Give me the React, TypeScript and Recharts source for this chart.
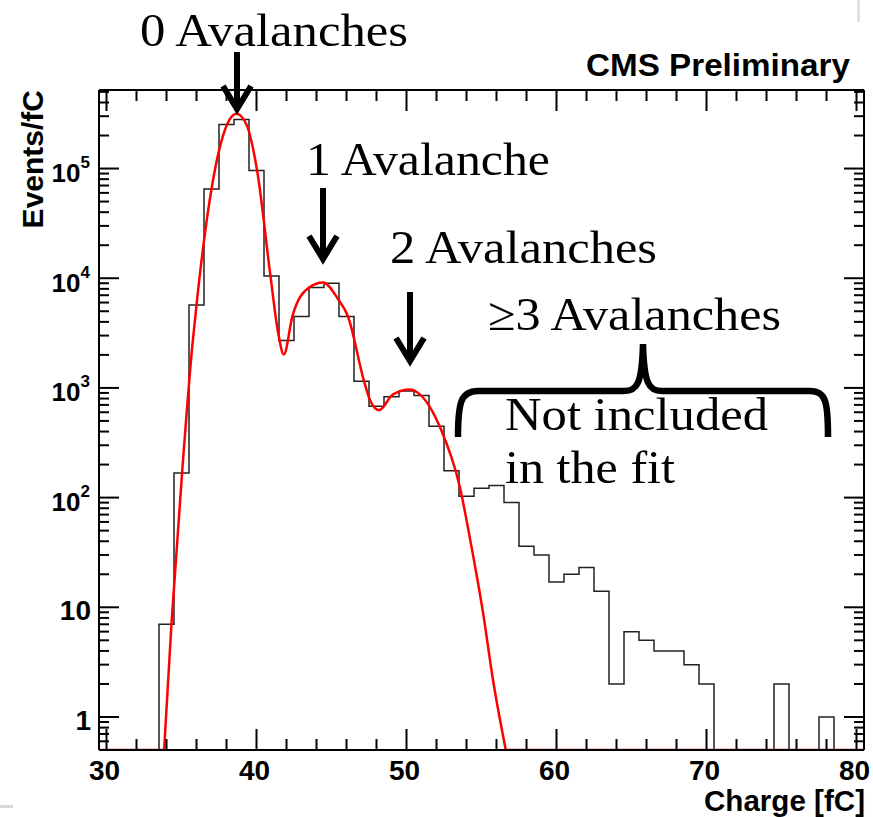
import React from 'react';
import { ComposedChart, Line, XAxis, YAxis } from 'recharts';

// ---------- data ----------
const binCenters = [
  30, 31, 32, 33, 34, 35, 36, 37, 38, 39, 40, 41, 42, 43, 44, 45, 46, 47, 48, 49, 50,
  51, 52, 53, 54, 55, 56, 57, 58, 59, 60, 61, 62, 63, 64, 65, 66, 67, 68, 69, 70,
  71, 72, 73, 74, 75, 76, 77, 78, 79, 80,
];
const binCounts = [
  0, 0, 0, 0, 7, 168, 5700, 65000, 252000, 280000, 96000, 10500, 2700, 4480, 8240, 9020, 4480, 1150, 680, 830, 935,
  854, 448, 176, 103, 122, 129, 90, 36, 30, 17, 20, 23, 14, 2, 6, 5, 4, 4, 3, 2,
  0, 0, 0, 0, 2, 0, 0, 1, 0, 0,
];
const binWidth = 1;

const fitCharge = [
  33.84, 34.33, 35.04, 35.73, 36.0, 36.5, 37.0, 37.6, 38.2, 38.67, 39.33, 40.04, 40.93, 41.44, 41.82,
  42.4, 43.5, 44.44, 45.44, 46.1, 47.17, 47.55, 48.17, 49.1, 50.22, 50.89, 52.3, 53.55, 54.33, 55.11,
  55.77, 56.62,
];
const fitValue = [
  0.5, 7, 169, 2500, 5700, 22000, 65000, 165000, 279000, 316000, 252000, 96000, 10500, 3200, 2020,
  4530, 8240, 9160, 6440, 4480, 1150, 785, 627, 873, 969, 873, 417, 126, 35.8, 8.8,
  2.16, 0.5,
];

const xDomain: [number, number] = [29.5, 80.5];
const yDomain: [number, number] = [0.5, 520000];

const xMajorTicks = [30, 40, 50, 60, 70, 80];
const xMinorTicks = [32, 34, 36, 38, 42, 44, 46, 48, 52, 54, 56, 58, 62, 64, 66, 68, 72, 74, 76, 78];
const yMajorTicks = [1, 10, 100, 1000, 10000, 100000];
const yTickBase = ['1', '10', '10', '10', '10', '10'];
const yTickExp = ['', '', '2', '3', '4', '5'];
const yMinorMantissas = [2, 3, 4, 5, 6, 7, 8, 9];

const annotations = [
  { text: '0 Avalanches', x: 140, y: 46, w: 268 },
  { text: '1 Avalanche', x: 306, y: 175, w: 244 },
  { text: '2 Avalanches', x: 390, y: 263, w: 267 },
  { text: '\u22653 Avalanches', x: 488, y: 330, w: 293 },
  { text: 'Not included', x: 505, y: 430, w: 263 },
  { text: 'in the fit', x: 505, y: 483, w: 170 },
];
const arrows = [
  { x: 237, top: 52, tip: 113 },
  { x: 323, top: 188, tip: 263 },
  { x: 410, top: 292, tip: 365 },
];

// ---------- derived tables ----------
const histData = [
  ...binCenters.map((c, i) => ({ x: c - binWidth / 2, h: Math.max(binCounts[i], yDomain[0]) })),
  {
    x: binCenters[binCenters.length - 1] + binWidth / 2,
    h: Math.max(binCounts[binCounts.length - 1], yDomain[0]),
  },
];
const fitData = fitCharge.map((x, i) => ({ x, f: fitValue[i] }));
const fitLeftFloor = [
  { x: xDomain[0], f: yDomain[0] },
  { x: fitCharge[0], f: yDomain[0] },
];
const fitRightFloor = [
  { x: fitCharge[fitCharge.length - 1], f: yDomain[0] },
  { x: xDomain[1], f: yDomain[0] },
];

const yMinorTicks: number[] = [];
[0.1, 1, 10, 100, 1000, 10000, 100000].forEach((d) => {
  yMinorMantissas.forEach((m) => {
    const v = m * d;
    if (v > yDomain[0] && v < yDomain[1]) yMinorTicks.push(v);
  });
});
const yTicks = [...yMajorTicks, ...yMinorTicks].sort((a, b) => a - b);
const xTicks = [...xMajorTicks, ...xMinorTicks].sort((a, b) => a - b);

const SANS = '"Liberation Sans", Arial, Helvetica, sans-serif';
const SERIF = '"Liberation Serif", "Times New Roman", Times, serif';
const TICK_W = 2;

// ---------- tick renderers ----------
const LeftTick = (props: any) => {
  const { x, y, payload } = props;
  const idx = yMajorTicks.indexOf(payload.value);
  const major = idx >= 0;
  const len = major ? 20 : 10;
  return (
    <g>
      <line x1={x} y1={y} x2={x + len} y2={y} stroke="#000" strokeWidth={TICK_W} />
      {major && yTickExp[idx] === '' && (
        <text x={x - 8} y={y + 13} textAnchor="end" fontFamily={SANS} fontWeight="bold" fontSize={28} fill="#000">
          {yTickBase[idx]}
        </text>
      )}
      {major && yTickExp[idx] !== '' && (
        <text x={x - 9} y={y + 13.5} textAnchor="end" fontFamily={SANS} fontWeight="bold" fill="#000">
          <tspan fontSize={26}>{yTickBase[idx]}</tspan>
          <tspan fontSize={17} dy={-14}>
            {yTickExp[idx]}
          </tspan>
        </text>
      )}
    </g>
  );
};

const RightTick = (props: any) => {
  const { x, y, payload } = props;
  const major = yMajorTicks.indexOf(payload.value) >= 0;
  const len = major ? 20 : 10;
  return <line x1={x} y1={y} x2={x - len} y2={y} stroke="#000" strokeWidth={TICK_W} />;
};

const BottomTick = (props: any) => {
  const { x, y, payload } = props;
  const major = xMajorTicks.indexOf(payload.value) >= 0;
  const len = major ? 21 : 11;
  return (
    <g>
      <line x1={x} y1={y} x2={x} y2={y - len} stroke="#000" strokeWidth={TICK_W} />
      {major && (
        <text x={x - 2} y={y + 30} textAnchor="middle" fontFamily={SANS} fontWeight="bold" fontSize={28} fill="#000">
          {String(payload.value)}
        </text>
      )}
    </g>
  );
};

const TopTick = (props: any) => {
  const { x, y, payload } = props;
  const major = xMajorTicks.indexOf(payload.value) >= 0;
  const len = major ? 21 : 11;
  return <line x1={x} y1={y} x2={x} y2={y + len} stroke="#000" strokeWidth={TICK_W} />;
};

const axisLineStyle = { stroke: '#000', strokeWidth: 2 };

export default function App() {
  return (
    <div style={{ position: 'absolute', left: 0, top: 0, width: 873, height: 817, background: '#fff' }}>
      <ComposedChart width={873} height={817} margin={{ top: 89, right: 8, bottom: 0, left: 0 }}>
        <XAxis
          xAxisId="b"
          dataKey="x"
          type="number"
          domain={xDomain}
          allowDataOverflow
          ticks={xTicks}
          interval={0}
          height={67}
          tickSize={0}
          tickMargin={0}
          tickLine={false}
          axisLine={axisLineStyle}
          tick={(p: any) => <BottomTick {...p} />}
        />
        <XAxis
          xAxisId="t"
          orientation="top"
          dataKey="x"
          type="number"
          domain={xDomain}
          allowDataOverflow
          ticks={xTicks}
          interval={0}
          height={1}
          tickSize={0}
          tickMargin={0}
          tickLine={false}
          axisLine={axisLineStyle}
          tick={(p: any) => <TopTick {...p} />}
        />
        <YAxis
          yAxisId="l"
          type="number"
          scale="log"
          domain={yDomain}
          allowDataOverflow
          ticks={yTicks}
          interval={0}
          width={99}
          tickSize={0}
          tickMargin={0}
          tickLine={false}
          axisLine={axisLineStyle}
          tick={(p: any) => <LeftTick {...p} />}
        />
        <YAxis
          yAxisId="r"
          orientation="right"
          type="number"
          scale="log"
          domain={yDomain}
          allowDataOverflow
          ticks={yTicks}
          interval={0}
          width={1}
          tickSize={0}
          tickMargin={0}
          tickLine={false}
          axisLine={axisLineStyle}
          tick={(p: any) => <RightTick {...p} />}
        />
        <Line
          xAxisId="t"
          yAxisId="r"
          data={histData}
          dataKey="h"
          type="stepAfter"
          stroke="none"
          dot={false}
          activeDot={false}
          isAnimationActive={false}
        />
        <Line
          xAxisId="b"
          yAxisId="l"
          data={histData}
          dataKey="h"
          type="stepAfter"
          stroke="#222"
          strokeWidth={1.5}
          dot={false}
          activeDot={false}
          isAnimationActive={false}
        />
        <Line
          xAxisId="b"
          yAxisId="l"
          data={fitLeftFloor}
          dataKey="f"
          type="linear"
          stroke="#ff0000"
          strokeWidth={2.5}
          dot={false}
          activeDot={false}
          isAnimationActive={false}
        />
        <Line
          xAxisId="b"
          yAxisId="l"
          data={fitData}
          dataKey="f"
          type="monotone"
          stroke="#ff0000"
          strokeWidth={2.5}
          dot={false}
          activeDot={false}
          isAnimationActive={false}
        />
        <Line
          xAxisId="b"
          yAxisId="l"
          data={fitRightFloor}
          dataKey="f"
          type="linear"
          stroke="#ff0000"
          strokeWidth={2.5}
          dot={false}
          activeDot={false}
          isAnimationActive={false}
        />
      </ComposedChart>
      <svg
        width={873}
        height={817}
        style={{ position: 'absolute', left: 0, top: 0, pointerEvents: 'none' }}
      >
        <text x={850} y={76} textAnchor="end" fontFamily={SANS} fontWeight="bold" fontSize={31} fill="#000" textLength={264} lengthAdjust="spacingAndGlyphs">
          CMS Preliminary
        </text>
        <text x={865} y={811} textAnchor="end" fontFamily={SANS} fontWeight="bold" fontSize={29} fill="#000" textLength={161} lengthAdjust="spacingAndGlyphs">
          Charge [fC]
        </text>
        <text
          x={43}
          y={90}
          textAnchor="end"
          fontFamily={SANS}
          fontWeight="bold"
          fontSize={30}
          fill="#000"
          transform="rotate(-90 43 90)"
        >
          Events/fC
        </text>
        {annotations.map((a) => (
          <text
            key={a.text}
            x={a.x}
            y={a.y}
            fontFamily={SERIF}
            fontSize={47}
            fill="#000"
            textLength={a.w}
            lengthAdjust="spacingAndGlyphs"
          >
            {a.text}
          </text>
        ))}
        {arrows.map((a) => (
          <g key={a.x} stroke="#000" strokeWidth={6} fill="none">
            <line x1={a.x} y1={a.top} x2={a.x} y2={a.tip - 6} />
            <polyline
              points={`${a.x - 14},${a.tip - 27} ${a.x},${a.tip - 4} ${a.x + 14},${a.tip - 27}`}
              strokeLinejoin="miter"
            />
          </g>
        ))}
        <path
          d="M 458 437 C 458 402, 461 391, 478 391 L 624 391 C 637 391, 642 384, 643 344 C 644 384, 649 391, 662 391 L 810 391 C 826 391, 828 402, 828 437"
          stroke="#000"
          strokeWidth={6.5}
          fill="none"
        />
        <rect x={0} y={805} width={13} height={3} fill="#d8d8d8" />
        <rect x={857} y={0} width={3} height={22} fill="#e0e0e0" />
      </svg>
    </div>
  );
}
